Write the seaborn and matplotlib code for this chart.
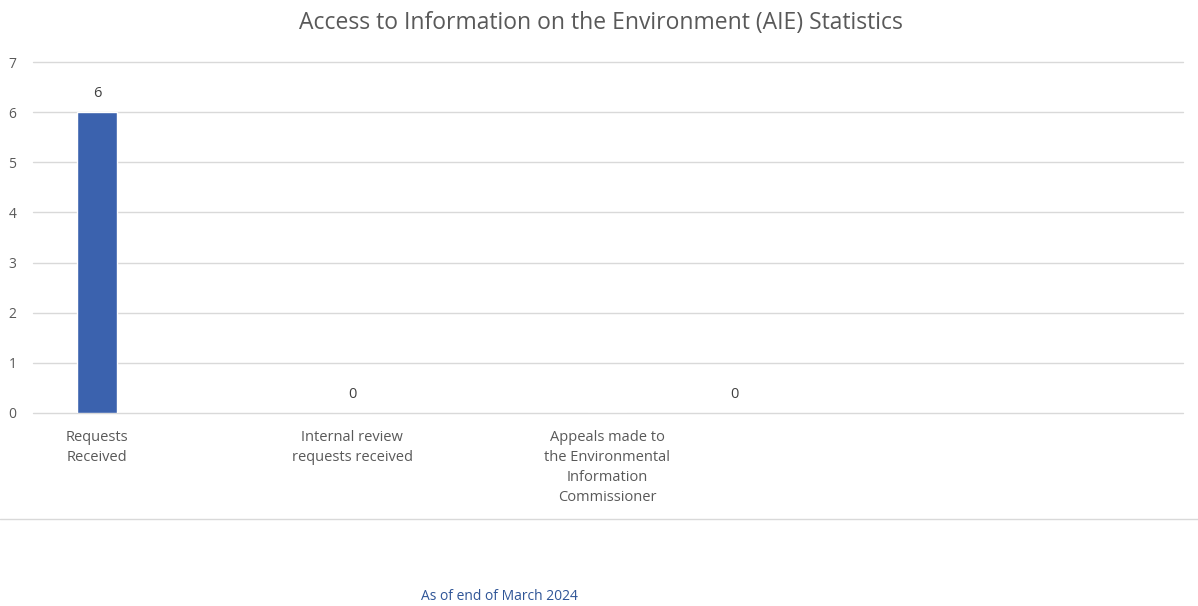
import matplotlib
matplotlib.use("Agg")
import matplotlib.pyplot as plt
import seaborn as sns
import pandas as pd

categories = ["Requests\nReceived",
              "Internal review\nrequests received",
              "Appeals made to\nthe Environmental\nInformation\nCommissioner"]
values = [6, 0, 0]
title = "Access to Information on the Environment (AIE) Statistics"
footnote = "As of end of March 2024"
y_ticks = [0, 1, 2, 3, 4, 5, 6, 7]

df = pd.DataFrame({"category": categories, "value": values})

sns.set_theme(style="white")
plt.rcParams["font.family"] = ["Open Sans", "DejaVu Sans"]

W, H = 1198, 606
fig = plt.figure(figsize=(W / 100, H / 100), dpi=100)
# axes placed in pixel terms: x 33..1183, y 62..413
ax = fig.add_axes([33 / W, 1 - 413 / H, (1183 - 33) / W, (413 - 62) / H])

sns.barplot(data=df, x="category", y="value", ax=ax, color="#3B62AE",
            width=0.153, saturation=1, order=categories, zorder=3)

unit = 255.0
ax.set_xlim((33 - 97) / unit, (1183 - 97) / unit)
ax.set_ylim(0, 7)
ax.set_yticks(y_ticks)
ax.set_yticklabels([str(t) for t in y_ticks], fontsize=10, color="#595959")
ax.tick_params(axis="y", length=0, pad=12)
ax.tick_params(axis="x", length=0, pad=12)
ax.set_xticks(range(len(categories)))
ax.set_xticklabels(categories, fontsize=10.5, color="#595959", linespacing=1.45)
ax.set_xlabel("")
ax.set_ylabel("")
ax.yaxis.grid(True, color="#D9D9D9", linewidth=1)
for gl in ax.get_ygridlines():
    gl.set_clip_on(False)
ax.set_axisbelow(True)
for s in ax.spines.values():
    s.set_visible(False)

# data labels (Excel placed the last one off-centre)
label_pos = [0, 1, 2.5]
for xp, v in zip(label_pos, values):
    ax.annotate(str(v), (xp, v), xytext=(0, 8), textcoords="offset points",
                ha="center", va="bottom", fontsize=10.5, color="#404040")

fig.text(601 / W, 1 - 23 / H, title, ha="center", va="center",
         fontsize=16.5, color="#595959")

# separator line
fig.add_artist(plt.Line2D([0, 1], [1 - 519 / H, 1 - 519 / H],
                          transform=fig.transFigure, color="#D9D9D9", linewidth=1))

fig.text(499 / W, 1 - 597 / H, footnote, ha="center", va="center",
         fontsize=10, color="#2F5597")

fig.savefig("out.png", dpi=100, facecolor="white")
